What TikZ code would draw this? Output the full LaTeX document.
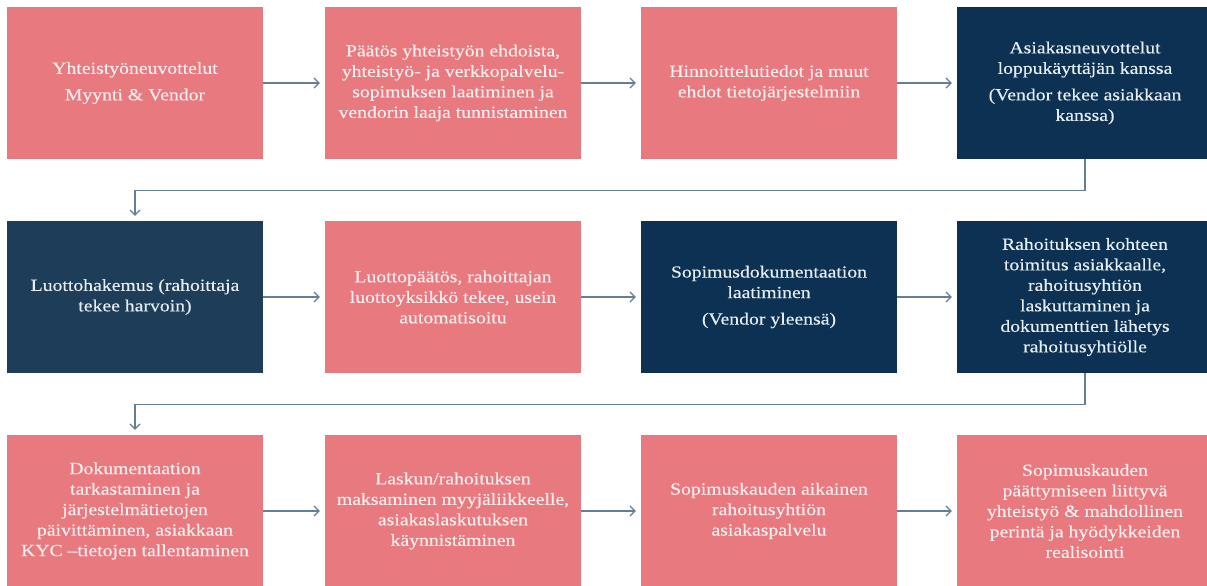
\documentclass[tikz,border=0pt]{standalone}
\usepackage{fontspec}
\setmainfont{Liberation Serif}[FakeStretch=1.16, FakeBold=0.3]
\usetikzlibrary{arrows.meta}
\definecolor{pinkc}{HTML}{E7797F}
\definecolor{navyc}{HTML}{0C3152}
\definecolor{navyb}{HTML}{1E3D58}
\definecolor{pinktext}{HTML}{FCEEEE}
\definecolor{navytext}{HTML}{E6EDF3}
\definecolor{linec}{HTML}{647F95}
\tikzset{
  box/.style={minimum width=256pt, minimum height=152pt, inner sep=0pt, align=center,
    font=\fontsize{17}{20.5}\selectfont},
  pinkbox/.style={box, fill=pinkc, text=pinktext},
  navybox/.style={box, fill=navyc, text=navytext},
  navybbox/.style={box, fill=navyb, text=navytext},
  conn/.style={draw=linec, line width=1.2pt, -{Straight Barb[length=5pt,width=10pt]}, shorten >=5pt},
}
\begin{document}
\begin{tikzpicture}[x=1pt, y=-1pt]
\useasboundingbox (0,0) rectangle (1207,586);
\clip (0,0) rectangle (1207,586);
\fill[white] (0,0) rectangle (1207,586);
% row 1
\node[pinkbox] (b11) at (135,83) {Yhteistyöneuvottelut\\[6pt]Myynti \& Vendor};
\node[pinkbox] (b12) at (453,83) {Päätös yhteistyön ehdoista,\\yhteistyö- ja verkkopalvelu-\\sopimuksen laatiminen ja\\vendorin laaja tunnistaminen};
\node[pinkbox] (b13) at (769,83) {Hinnoittelutiedot ja muut\\ehdot tietojärjestelmiin};
\node[navybox] (b14) at (1085,83) {Asiakasneuvottelut\\loppukäyttäjän kanssa\\[6pt](Vendor tekee asiakkaan\\kanssa)};
% row 2
\node[navybbox] (b21) at (135,297) {Luottohakemus (rahoittaja\\tekee harvoin)};
\node[pinkbox] (b22) at (453,297) {Luottopäätös, rahoittajan\\luottoyksikkö tekee, usein\\automatisoitu};
\node[navybox] (b23) at (769,297) {Sopimusdokumentaation\\laatiminen\\[6pt](Vendor yleensä)};
\node[navybox] (b24) at (1085,297) {Rahoituksen kohteen\\toimitus asiakkaalle,\\rahoitusyhtiön\\laskuttaminen ja\\dokumenttien lähetys\\rahoitusyhtiölle};
% row 3
\node[pinkbox] (b31) at (135,511) {Dokumentaation\\tarkastaminen ja\\järjestelmätietojen\\päivittäminen, asiakkaan\\KYC –tietojen tallentaminen};
\node[pinkbox] (b32) at (453,511) {Laskun/rahoituksen\\maksaminen myyjäliikkeelle,\\asiakaslaskutuksen\\käynnistäminen};
\node[pinkbox] (b33) at (769,511) {Sopimuskauden aikainen\\rahoitusyhtiön\\asiakaspalvelu};
\node[pinkbox] (b34) at (1085,511) {Sopimuskauden\\päättymiseen liittyvä\\yhteistyö \& mahdollinen\\perintä ja hyödykkeiden\\realisointi};
% connectors
\draw[conn] (b11) -- (b12);
\draw[conn] (b12) -- (b13);
\draw[conn] (b13) -- (b14);
\draw[conn] (b21) -- (b22);
\draw[conn] (b22) -- (b23);
\draw[conn] (b23) -- (b24);
\draw[conn] (b31) -- (b32);
\draw[conn] (b32) -- (b33);
\draw[conn] (b33) -- (b34);
\draw[conn] (b14.south) -- ++(0,31) -| (b21.north);
\draw[conn] (b24.south) -- ++(0,31) -| (b31.north);
\end{tikzpicture}
\end{document}
